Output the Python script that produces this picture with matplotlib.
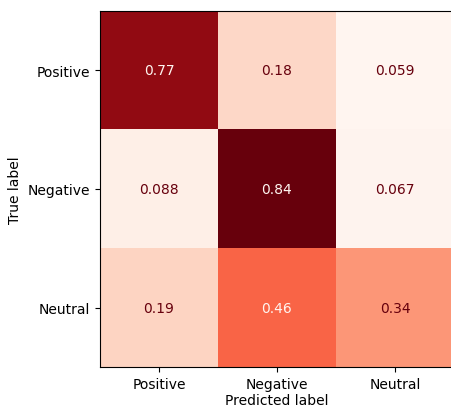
import numpy as np
import matplotlib
matplotlib.use("Agg")
import matplotlib.pyplot as plt

labels = ["Positive", "Negative", "Neutral"]
row_positive = [0.77, 0.18, 0.059]
row_negative = [0.088, 0.84, 0.067]
row_neutral = [0.19, 0.46, 0.34]

cm = np.array([row_positive, row_negative, row_neutral])

fig = plt.figure(figsize=(4.51, 4.10), dpi=100)
ax = fig.add_axes([100 / 451, 42 / 410, 354 / 451, 356 / 410])

cmap = plt.get_cmap("Reds")
im = ax.imshow(cm, cmap=cmap, interpolation="nearest", aspect="auto")

# text colour flips at the midpoint, like sklearn's display
thresh = (cm.max() + cm.min()) / 2.0
for i in range(cm.shape[0]):
    for j in range(cm.shape[1]):
        color = cmap(0.0) if cm[i, j] > thresh else cmap(1.0)
        ax.text(j, i, format(cm[i, j], ".2g"), ha="center", va="center",
                color=color, fontsize=10)

ax.set_xticks(range(len(labels)))
ax.set_yticks(range(len(labels)))
ax.set_xticklabels(labels, fontsize=10)
ax.set_yticklabels(labels, fontsize=10)
ax.set_xlabel("Predicted label", fontsize=10, labelpad=2)
ax.set_ylabel("True label", fontsize=10)

fig.savefig("out.png", dpi=100)
